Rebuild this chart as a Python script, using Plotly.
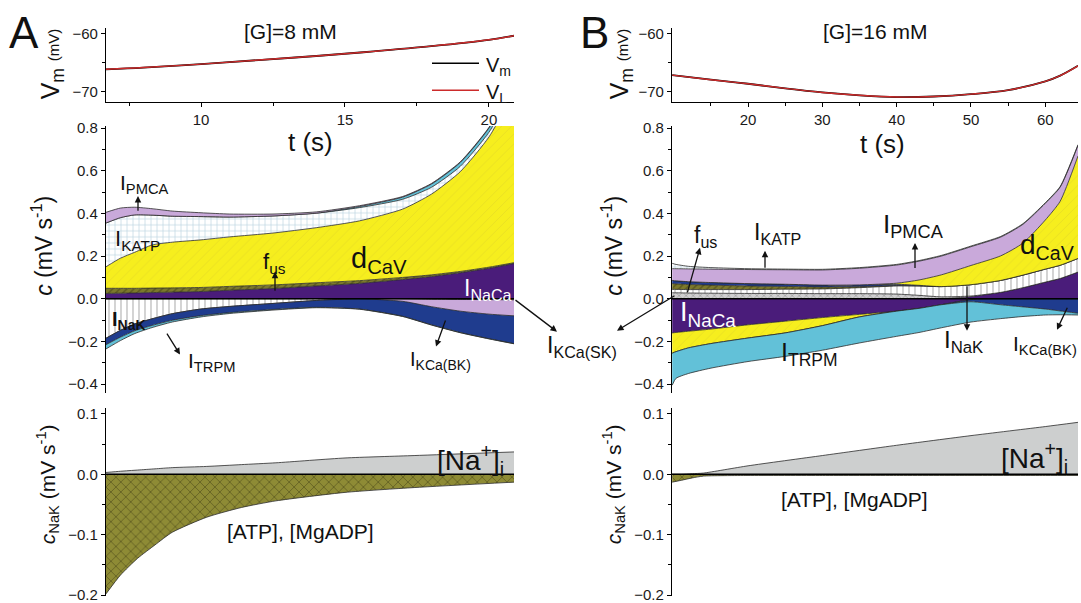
import plotly.graph_objects as go

# ---------------- data ----------------
# Panel A ([G]=8 mM) membrane potential
tA_v = [6.7, 8, 10, 12, 14, 16, 18, 20, 20.87]
vm_A = [-66.2, -65.9, -65.3, -64.6, -63.9, -63.1, -62.2, -61.1, -60.4]
vl_A = [-66.2, -65.9, -65.3, -64.6, -63.9, -63.1, -62.2, -61.1, -60.4]
# Panel B ([G]=16 mM)
tB_v = [9.8, 15, 20, 25, 30, 35, 40, 45, 50, 55, 60, 62, 64.4]
vm_B = [-67.2, -68.0, -68.7, -69.5, -70.2, -70.7, -71.0, -70.9, -70.5, -69.8, -68.3, -67.3, -65.6]
vl_B = [-67.2, -68.0, -68.7, -69.5, -70.2, -70.7, -71.0, -70.9, -70.5, -69.8, -68.3, -67.3, -65.6]

# Panel A contributions c (mV/s), positive stack
tA = [6.7, 7.2, 7.7, 8.3, 9.0, 10.0, 11.0, 12.5, 14.0, 15.5, 17.0, 18.0, 19.0, 20.0, 20.87]
A_NaCa = [0.025, 0.026, 0.027, 0.029, 0.031, 0.034, 0.040, 0.048, 0.060, 0.072, 0.090, 0.104, 0.122, 0.143, 0.165]
A_fus = [0.024, 0.023, 0.022, 0.021, 0.020, 0.019, 0.018, 0.017, 0.015, 0.013, 0.010, 0.008, 0.006, 0.005, 0.004]
A_dCaV = [0.101, 0.141, 0.169, 0.202, 0.214, 0.223, 0.232, 0.243, 0.258, 0.280, 0.320, 0.378, 0.467, 0.610, 0.800]
A_KATP = [0.205, 0.190, 0.175, 0.140, 0.122, 0.109, 0.093, 0.080, 0.068, 0.062, 0.046, 0.032, 0.025, 0.022, 0.022]
A_cyan = [0, 0, 0, 0, 0, 0, 0, 0, 0, 0.005, 0.010, 0.015, 0.018, 0.020, 0.020]
A_PMCA = [0.050, 0.045, 0.036, 0.030, 0.024, 0.018, 0.014, 0.009, 0.006, 0.004, 0.003, 0.003, 0.003, 0.003, 0.003]
# Panel A negative stack
A_SK = [0, 0, 0, 0, 0, 0, 0, 0, 0, 0, 0, -0.002, -0.003, -0.004, -0.005]
A_NaK = [-0.185, -0.148, -0.118, -0.094, -0.070, -0.048, -0.036, -0.022, -0.008, 0, 0, 0, 0, 0, 0]
A_lav = [0, 0, 0, 0, 0, 0, 0, 0, 0, 0, -0.012, -0.035, -0.055, -0.068, -0.075]
A_BK = [-0.030, -0.032, -0.032, -0.031, -0.031, -0.031, -0.029, -0.028, -0.032, -0.048, -0.070, -0.085, -0.100, -0.115, -0.130]
A_TRPM = [-0.020, -0.016, -0.013, -0.010, -0.008, -0.006, -0.004, -0.003, -0.002, -0.001, -0.001, -0.001, -0.001, -0.001, -0.001]

# Panel B contributions
tB = [9.8, 10.3, 12, 15, 20, 25, 30, 35, 40, 43, 46, 50, 54, 57, 60, 62, 64.4]
B_NaCa_p = [0, 0, 0, 0, 0, 0, 0, 0, 0, 0, 0, 0.010, 0.030, 0.052, 0.078, 0.095, 0.125]
B_SK = [0.028, 0.028, 0.027, 0.026, 0.025, 0.025, 0.024, 0.024, 0.022, 0.016, 0.009, 0.003, 0, 0, 0, 0, 0]
B_NaK = [0.016, 0.016, 0.016, 0.017, 0.018, 0.020, 0.022, 0.028, 0.038, 0.044, 0.048, 0.053, 0.056, 0.059, 0.061, 0.062, 0.064]
B_fus = [0.027, 0.026, 0.024, 0.021, 0.017, 0.013, 0.009, 0.005, 0.002, 0, 0, 0, 0, 0, 0, 0, 0]
B_BK_p = [0.015, 0.014, 0.013, 0.012, 0.011, 0.010, 0.009, 0.008, 0.006, 0.003, 0, 0, 0, 0, 0, 0, 0]
B_dCaV_p = [0, 0, 0, 0, 0, 0, 0, 0, 0.005, 0.025, 0.055, 0.090, 0.115, 0.150, 0.230, 0.300, 0.480]
B_PMCA = [0.055, 0.057, 0.060, 0.063, 0.066, 0.068, 0.071, 0.078, 0.085, 0.088, 0.088, 0.088, 0.088, 0.088, 0.078, 0.066, 0.050]
B_KATP = [0.025, 0.020, 0.012, 0.007, 0.004, 0.003, 0.003, 0.003, 0.003, 0.003, 0.003, 0.003, 0.003, 0.003, 0.003, 0.003, 0.003]
B_NaCa_n = [-0.160, -0.158, -0.152, -0.142, -0.122, -0.105, -0.088, -0.073, -0.058, -0.045, -0.028, -0.004, 0, 0, 0, 0, 0]
B_dCaV_n = [-0.095, -0.090, -0.078, -0.068, -0.062, -0.055, -0.038, -0.012, 0, 0, 0, 0, 0, 0, 0, 0, 0]
B_BK_n = [0, 0, 0, 0, 0, 0, 0, 0, 0, 0, 0, -0.010, -0.028, -0.038, -0.048, -0.057, -0.068]
B_TRPM = [-0.150, -0.125, -0.120, -0.115, -0.110, -0.110, -0.115, -0.122, -0.118, -0.113, -0.108, -0.095, -0.065, -0.045, -0.028, -0.018, -0.008]

# c_NaK decomposition
tA_n = [6.7, 7.2, 7.8, 8.4, 9.0, 10.2, 11.4, 12.6, 15.0, 17.4, 20.87]
A_Na = [0.003, 0.005, 0.007, 0.009, 0.011, 0.013, 0.016, 0.019, 0.027, 0.031, 0.037]
A_ATP = [-0.198, -0.167, -0.139, -0.117, -0.096, -0.071, -0.055, -0.044, -0.030, -0.022, -0.013]
tB_n = [9.8, 11, 12.5, 14, 20, 30, 40, 50, 60, 64.4]
B_Na = [0.0, 0.0, 0.001, 0.002, 0.014, 0.031, 0.048, 0.064, 0.079, 0.086]
B_ATP = [-0.013, -0.010, -0.006, -0.003, -0.002, -0.002, -0.002, -0.002, -0.002, -0.002]

xrA = [6.7, 20.87]
xrB = [9.77, 64.4]
xticksA = [10, 15, 20]
xminorA = [7.5, 12.5, 17.5]
xticksB = [20, 30, 40, 50, 60]
xminorB = [15, 25, 35, 45, 55]

# ---------------- colours ----------------
YEL = '#F6EE1E'
PUR = '#4A1C7A'
LAV = '#C9A9DA'
NAVY = '#1F3C8E'
CYAN = '#62C1D8'
OLIVE = '#7C792C'
GREY = '#CDCFCF'

W, H = 1081, 603
FONT = 'Liberation Sans, Arial, Noto Sans CJK JP, sans-serif'


def px(x):
    return x / W


def py(y):
    ys = 315 + (y - 315) * 1.021
    return min(1.0, max(0.0, 1 - ys / H))


fig = go.Figure()


def band(t, vals, xa, ya, grp, color, pattern=None):
    kw = dict(x=t, y=vals, xaxis=xa, yaxis=ya, stackgroup=grp, mode='lines',
              line=dict(color='#2b2b2b', width=0.8, shape='spline', smoothing=0.6),
              fillcolor=color, showlegend=False, hoverinfo='skip')
    if pattern:
        kw['fillpattern'] = pattern
    fig.add_trace(go.Scatter(**kw))


pat_yel = dict(shape='/', bgcolor=YEL, fgcolor='#D8CC2C', size=7, solidity=0.12)
pat_grid = dict(shape='+', bgcolor='#FFFFFF', fgcolor='#6FA4BC', size=6, solidity=0.2)
pat_vert = dict(shape='|', bgcolor='#FFFFFF', fgcolor='#6E6E6E', size=6, solidity=0.2)
pat_fus = dict(shape='/', bgcolor=OLIVE, fgcolor='#3C3A12', size=5, solidity=0.3)
pat_sk = dict(shape='x', bgcolor='#CFCFCF', fgcolor='#6A6A6A', size=5, solidity=0.25)
pat_atp = dict(shape='x', bgcolor='#8E8B35', fgcolor='#3C3A12', size=7, solidity=0.25)

# --- top panels: Vm / VL
fig.add_trace(go.Scatter(x=tA_v, y=vm_A, xaxis='x', yaxis='y', mode='lines',
                         line=dict(color='black', width=1.8, shape='spline'), showlegend=False))
fig.add_trace(go.Scatter(x=tA_v, y=vl_A, xaxis='x', yaxis='y', mode='lines',
                         line=dict(color='#CC2B2B', width=1.4, shape='spline'), showlegend=False))
fig.add_trace(go.Scatter(x=tB_v, y=vm_B, xaxis='x4', yaxis='y4', mode='lines',
                         line=dict(color='black', width=1.8, shape='spline'), showlegend=False))
fig.add_trace(go.Scatter(x=tB_v, y=vl_B, xaxis='x4', yaxis='y4', mode='lines',
                         line=dict(color='#CC2B2B', width=1.4, shape='spline'), showlegend=False))

# --- middle A
band(tA, A_NaCa, 'x2', 'y2', 'posA', PUR)
band(tA, A_fus, 'x2', 'y2', 'posA', OLIVE, pat_fus)
band(tA, A_dCaV, 'x2', 'y2', 'posA', YEL, pat_yel)
band(tA, A_KATP, 'x2', 'y2', 'posA', '#FFFFFF', pat_grid)
band(tA, A_cyan, 'x2', 'y2', 'posA', CYAN)
band(tA, A_PMCA, 'x2', 'y2', 'posA', LAV)
band(tA, A_SK, 'x2', 'y2', 'negA', '#CFCFCF', pat_sk)
band(tA, A_NaK, 'x2', 'y2', 'negA', '#FFFFFF', pat_vert)
band(tA, A_lav, 'x2', 'y2', 'negA', LAV)
band(tA, A_BK, 'x2', 'y2', 'negA', NAVY)
band(tA, A_TRPM, 'x2', 'y2', 'negA', CYAN)

# --- middle B
band(tB, B_NaCa_p, 'x5', 'y5', 'posB', PUR)
band(tB, B_SK, 'x5', 'y5', 'posB', '#CFCFCF', pat_sk)
band(tB, B_NaK, 'x5', 'y5', 'posB', '#FFFFFF', pat_vert)
band(tB, B_fus, 'x5', 'y5', 'posB', OLIVE, pat_fus)
band(tB, B_BK_p, 'x5', 'y5', 'posB', NAVY)
band(tB, B_dCaV_p, 'x5', 'y5', 'posB', YEL, pat_yel)
band(tB, B_PMCA, 'x5', 'y5', 'posB', LAV)
band(tB, B_KATP, 'x5', 'y5', 'posB', '#FFFFFF', pat_grid)
band(tB, B_NaCa_n, 'x5', 'y5', 'negB', PUR)
band(tB, B_dCaV_n, 'x5', 'y5', 'negB', YEL, pat_yel)
band(tB, B_BK_n, 'x5', 'y5', 'negB', NAVY)
band(tB, B_TRPM, 'x5', 'y5', 'negB', CYAN)

# --- bottom panels
band(tA_n, A_Na, 'x3', 'y3', 'naA', GREY)
band(tA_n, A_ATP, 'x3', 'y3', 'atpA', '#8E8B35', pat_atp)
band(tB_n, B_Na, 'x6', 'y6', 'naB', GREY)
band(tB_n, B_ATP, 'x6', 'y6', 'atpB', '#8E8B35', pat_atp)

# ---------------- axes ----------------
tickfont = dict(family=FONT, size=15, color='#1a1a1a')
ax_common = dict(showline=True, linecolor='black', linewidth=1.2, ticks='outside', ticklen=4,
                 tickwidth=1.1, tickcolor='black', showgrid=False, zeroline=False, tickfont=tickfont,
                 ticklabeloverflow='allow')
minor_common = dict(ticklen=3, ticks='outside', tickcolor='black', tickwidth=1)

domA = [px(106), px(514)]
domB = [px(672), px(1078)]
dom_top = [py(102), py(28)]
dom_mid = [py(393.2), py(125.7)]
dom_bot = [0.0, py(408.4)]

lay = {}
for i, (dom, xr, tv, mv) in enumerate([(domA, xrA, xticksA, xminorA), (domB, xrB, xticksB, xminorB)]):
    base = 3 * i
    xt, xm, xb = base + 1, base + 2, base + 3

    def nm(k, a):
        return a + ('axis' if k == 1 else 'axis%d' % k)

    def ref(k, a):
        return a if k == 1 else '%s%d' % (a, k)

    lay[nm(xt, 'x')] = dict(ax_common, domain=dom, range=xr, anchor=ref(xt, 'y'),
                            tickmode='array', tickvals=tv,
                            minor=dict(minor_common, tickmode='array', tickvals=mv))
    lay[nm(xt, 'y')] = dict(ax_common, domain=dom_top, range=[-71.9, -59.14], anchor=ref(xt, 'x'),
                            tickmode='array', tickvals=[-60, -70],
                            minor=dict(minor_common, tickmode='array', tickvals=[-65]))
    lay[nm(xm, 'x')] = dict(domain=dom, range=xr, anchor=ref(xm, 'y'), visible=False)
    lay[nm(xm, 'y')] = dict(ax_common, domain=dom_mid, range=[-0.44, 0.81], anchor=ref(xm, 'x'),
                            tickmode='array', tickvals=[-0.4, -0.2, 0, 0.2, 0.4, 0.6, 0.8],
                            ticktext=['\u22120.4', '\u22120.2', '0.0', '0.2', '0.4', '0.6', '0.8'],
                            minor=dict(minor_common, tickmode='array', tickvals=[-0.3, -0.1, 0.1, 0.3, 0.5, 0.7]))
    lay[nm(xb, 'x')] = dict(domain=dom, range=xr, anchor=ref(xb, 'y'), visible=False)
    lay[nm(xb, 'y')] = dict(ax_common, domain=dom_bot, range=[-0.2015, 0.11], anchor=ref(xb, 'x'),
                            tickmode='array', tickvals=[-0.2, -0.1, 0, 0.1],
                            ticktext=['\u22120.2', '\u22120.1', '0.0', '0.1'],
                            minor=dict(minor_common, tickmode='array', tickvals=[-0.15, -0.05, 0.05]))

fig.update_layout(**lay)

# zero lines
shapes = []
for xa, ya in [('x2', 'y2'), ('x3', 'y3'), ('x5', 'y5'), ('x6', 'y6')]:
    shapes.append(dict(type='line', xref=xa + ' domain', yref=ya, x0=0, x1=1, y0=0, y1=0,
                       line=dict(color='black', width=1.5), layer='above'))
# legend lines (panel A top)
shapes.append(dict(type='line', xref='paper', yref='paper', x0=px(432), x1=px(479), y0=py(63), y1=py(63),
                   line=dict(color='black', width=1.5)))
shapes.append(dict(type='line', xref='paper', yref='paper', x0=px(432), x1=px(479), y0=py(90), y1=py(90),
                   line=dict(color='#CC2B2B', width=1.6)))

annotations = []


def label(x, y, text, size=20, color='#111', xanchor='center', angle=0):
    annotations.append(dict(x=px(x), y=py(y), xref='paper', yref='paper', text=text, showarrow=False,
                            font=dict(family=FONT, size=size, color=color), xanchor=xanchor,
                            yanchor='middle', textangle=angle))


def arrow(x0, y0, x1, y1):
    annotations.append(dict(x=px(x1), y=py(y1), xref='paper', yref='paper', ax=x0 - x1, ay=(y0 - y1) * 1.021,
                            axref='pixel', ayref='pixel', text='', showarrow=True, arrowhead=2,
                            arrowsize=1, arrowwidth=1.3, arrowcolor='#111'))


# panel letters and titles
label(24, 32, 'A', 44)
label(594, 32, 'B', 44)
label(290, 31, '[G]=8 mM', 21)
label(875, 31, '[G]=16 mM', 21)
# legend texts
label(484, 66, 'V<sub>m</sub>', 20, xanchor='left')
label(484, 93, 'V<sub>L</sub>', 20, xanchor='left')

# y titles
for xc in (52, 621):
    label(xc, 64, "V<sub>m</sub> <span style='font-size:15px'>(mV)</span>", 25, angle=-90)
for xc in (42, 612):
    label(xc, 246, '<i>c</i> (mV s<sup>-1</sup>)', 23, angle=-90)
for xc in (47, 613):
    label(xc, 485, '<i>c</i><sub>NaK</sub> (mV s<sup>-1</sup>)', 21, angle=-90)

# t (s)
label(310, 142, 't (s)', 26)
label(882, 144, 't (s)', 26)

# panel A middle labels
label(144, 184, 'I<sub>PMCA</sub>', 21)
arrow(138, 212, 138, 196)
label(137, 240, 'I<sub>KATP</sub>', 22)
label(274, 263, 'f<sub>us</sub>', 22)
arrow(275, 292, 275, 272)
label(379, 260, 'd<sub>CaV</sub>', 29)
label(488, 290, 'I<sub>NaCa</sub>', 23, color='white')
label(129, 321, '<b>I<sub>NaK</sub></b>', 20)
label(211, 362, 'I<sub>TRPM</sub>', 21)
arrow(166, 333, 180, 355)
label(440, 361, 'I<sub>KCa(BK)</sub>', 20)
arrow(446, 320, 436, 347)
label(582, 347, 'I<sub>KCa(SK)</sub>', 23)
arrow(514, 300, 557, 332)
arrow(676, 296, 617, 331)

# panel B middle labels
label(705, 237, 'f<sub>us</sub>', 23)
arrow(687, 293, 700, 248)
label(777, 234, 'I<sub>KATP</sub>', 23)
arrow(765, 269, 765, 251)
label(913, 226, 'I<sub>PMCA</sub>', 26)
arrow(915, 269, 915, 243)
label(1047, 247, 'd<sub>CaV</sub>', 28)
label(708, 314, 'I<sub>NaCa</sub>', 27, color='white')
label(809, 354, 'I<sub>TRPM</sub>', 25)
label(963, 342, 'I<sub>NaK</sub>', 24)
arrow(967, 286, 967, 331)
label(1045, 345, 'I<sub>KCa(BK)</sub>', 21)
arrow(1068, 307, 1057, 330)

# bottom labels
label(470, 461, '[Na<sup>+</sup>]<sub>i</sub>', 28)
label(300, 532, '[ATP], [MgADP]', 21)
label(1034, 459, '[Na<sup>+</sup>]<sub>i</sub>', 28)
label(854, 500, '[ATP], [MgADP]', 21)

fig.update_layout(width=W, height=H, margin=dict(l=0, r=0, t=0, b=0, pad=0),
                  paper_bgcolor='white', plot_bgcolor='white', showlegend=False,
                  shapes=shapes, annotations=annotations, font=dict(family=FONT))

fig.write_html('out.html', config={'displayModeBar': False},
               post_script="document.documentElement.style.margin='0px';"
                           "document.body.style.margin='0px';document.body.style.padding='0px';"
                           "document.documentElement.style.overflow='hidden';"
                           "document.body.style.overflow='hidden';")
